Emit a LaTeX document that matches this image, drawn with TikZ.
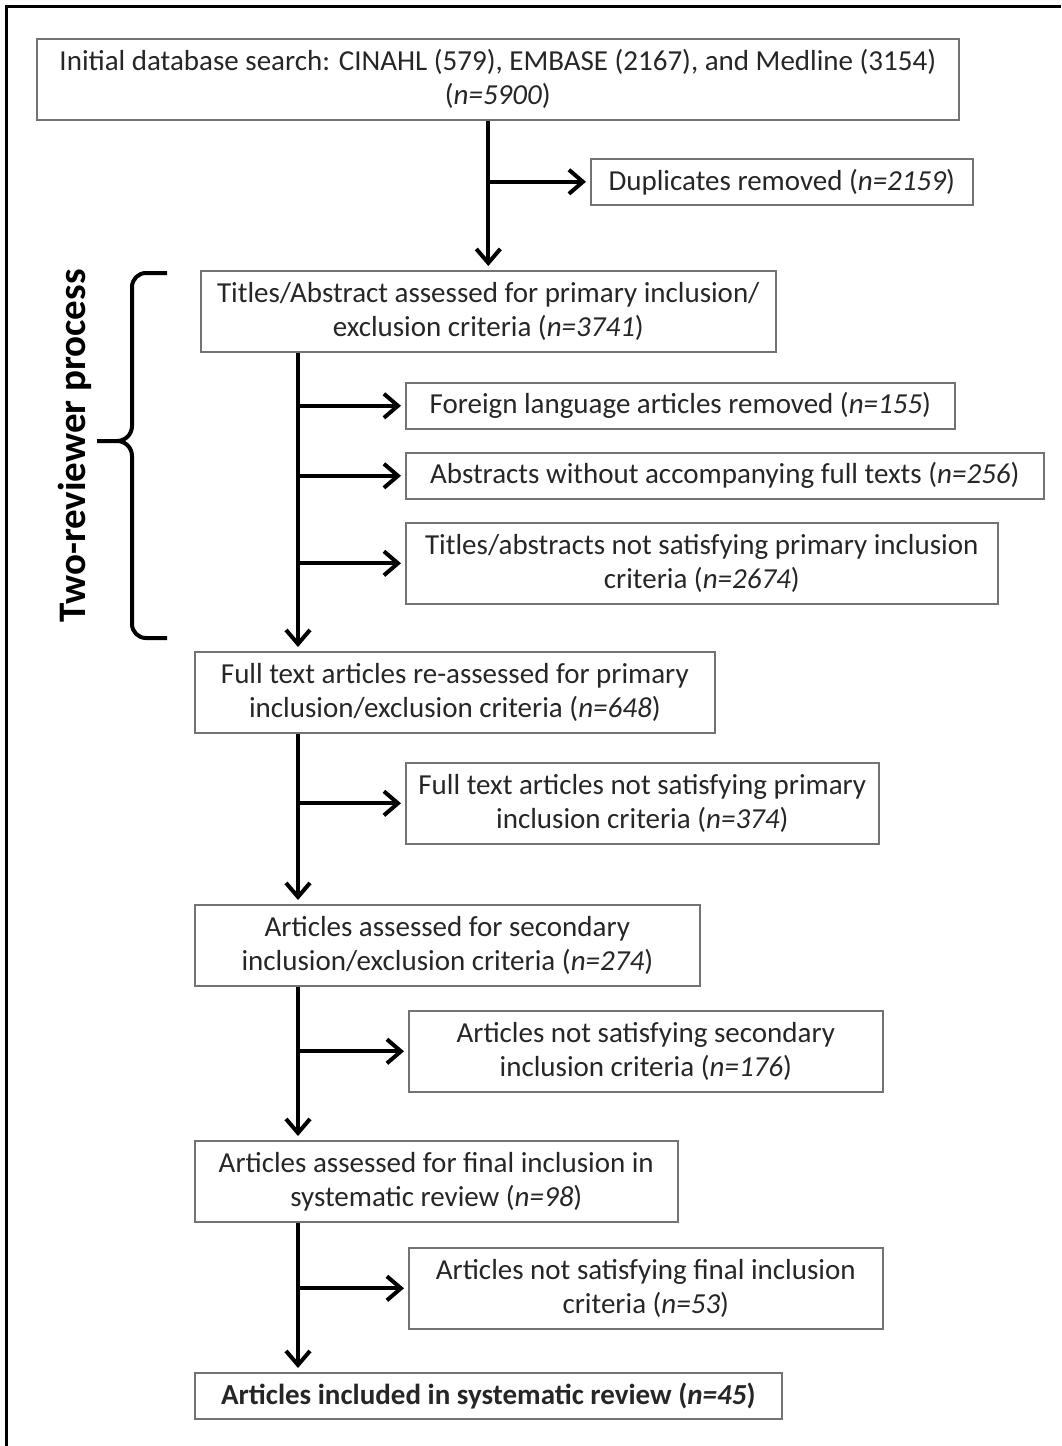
\documentclass[tikz,border=0pt]{standalone}
\usepackage{fontspec}
\setmainfont{Carlito}
\usepackage{tikz}
\usetikzlibrary{arrows.meta, positioning, calc}

\begin{document}
\begin{tikzpicture}[x=0.5pt, y=-0.5pt,
    >={Straight Barb[length=7pt, width=12pt]},
    box/.style={draw=black!55, line width=0.8pt, anchor=north west,
                align=center, inner sep=2pt, text=black!85,
                font=\fontsize{14.5}{17}\selectfont},
    one/.style={box, minimum height=23pt},
    two/.style={box, minimum height=40.5pt},
    arr/.style={->, line width=2pt, shorten >=2pt}]
  \useasboundingbox (0,0) rectangle (1061,1446);
  \draw[line width=1.5pt] (6,1446) -- (6,6) -- (1061,6);

  % main column
  \node[two, minimum width=461pt] (init) at (36,38)
    {Initial database search: CINAHL (579), EMBASE (2167), and Medline (3154)\\(\textit{n=5900})};
  \node[one, minimum width=191pt] (dup) at (590,158)
    {Duplicates removed (\textit{n=2159})};
  \node[two, minimum width=287.5pt] (titles) at (200,270)
    {Titles/Abstract assessed for primary inclusion/\\exclusion criteria (\textit{n=3741})};
  \node[one, minimum width=274.5pt] (foreign) at (405,382)
    {Foreign language articles removed (\textit{n=155})};
  \node[one, minimum width=319pt] (abs) at (405,452)
    {Abstracts without accompanying full texts (\textit{n=256})};
  \node[two, minimum width=296pt] (notprim) at (405,522)
    {Titles/abstracts not satisfying primary inclusion\\criteria (\textit{n=2674})};
  \node[two, minimum width=260pt] (full) at (194,651)
    {Full text articles re-assessed for primary\\inclusion/exclusion criteria (\textit{n=648})};
  \node[two, minimum width=236.5pt] (fullnot) at (405,762)
    {Full text articles not satisfying primary\\inclusion criteria (\textit{n=374})};
  \node[two, minimum width=252.5pt] (second) at (194,904)
    {Articles assessed for secondary\\inclusion/exclusion criteria (\textit{n=274})};
  \node[two, minimum width=237pt] (secnot) at (408,1010)
    {Articles not satisfying secondary\\inclusion criteria (\textit{n=176})};
  \node[two, minimum width=241.5pt] (final) at (194,1140)
    {Articles assessed for final inclusion in\\systematic review (\textit{n=98})};
  \node[two, minimum width=237pt] (finnot) at (408,1247)
    {Articles not satisfying final inclusion\\criteria (\textit{n=53})};
  \node[one, minimum width=293.5pt, font=\fontsize{14.5}{17}\selectfont\bfseries] (incl) at (194,1372)
    {Articles included in systematic review (\textit{n=45})};

  % connectors
  \coordinate (spine) at (298,0);
  \draw[arr] (titles.north |- init.south) -- (titles.north);
  \draw[arr] (titles.north |- dup.west) -- (dup.west);
  \draw[arr] (spine |- titles.south) -- (spine |- full.north);
  \draw[arr] (spine |- full.south) -- (spine |- second.north);
  \draw[arr] (spine |- second.south) -- (spine |- final.north);
  \draw[arr] (spine |- final.south) -- (spine |- incl.north);
  \foreach \b in {foreign, abs, notprim, fullnot, secnot, finnot}
    \draw[arr] (spine |- \b.west) -- (\b.west);

  % two-reviewer brace
  \draw[line width=2pt]
    (167,273) -- (146,273) to[out=180, in=90] (132,287) -- (132,426)
    to[out=-90, in=0] (117,441) -- (97,441);
  \draw[line width=2pt]
    (117,441) to[out=0, in=90] (132,456) -- (132,624)
    to[out=-90, in=180] (146,638) -- (167,638);
  \node[rotate=90, font=\fontsize{19.5}{22}\selectfont\bfseries] (review) at (75,446)
    {Two-reviewer process};
\end{tikzpicture}
\end{document}
